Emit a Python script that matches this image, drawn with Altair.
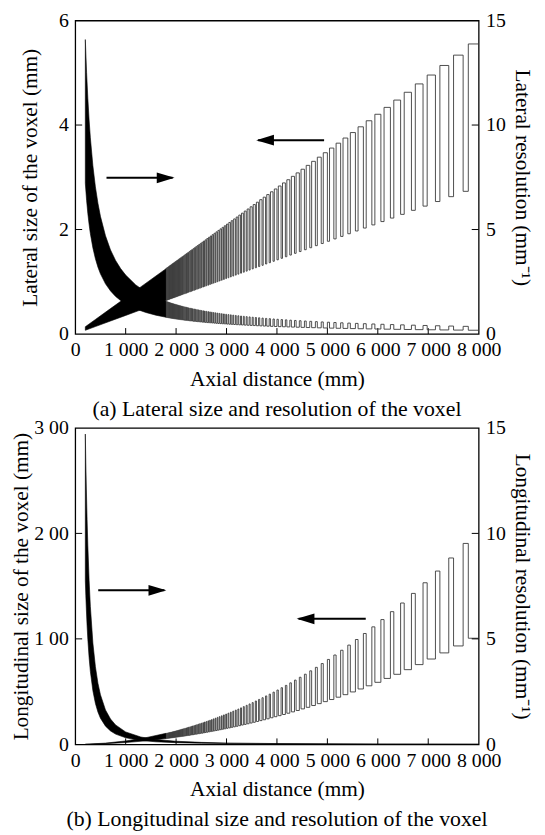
import altair as alt
import pandas as pd

F = "Liberation Serif"

# ---------------- data ----------------
# distance (mm) of the step edges where the individual voxel steps are drawn
step_edges_mm = [1802, 1818, 1835, 1852, 1869, 1887, 1905, 1923, 1942, 1961,
                 1980, 2000, 2020, 2041, 2062, 2083, 2105, 2128, 2151, 2174,
                 2198, 2222, 2247, 2273, 2299, 2326, 2353, 2381, 2410, 2439,
                 2469,
                 2500, 2532, 2564, 2597, 2632, 2667, 2703, 2740, 2778, 2817,
                 2857, 2899, 2941, 2985, 3030, 3077, 3125, 3175, 3226, 3279,
                 3333, 3390, 3448, 3509, 3571, 3636, 3704, 3774, 3846, 3922,
                 4000, 4082, 4167, 4255, 4348, 4444, 4545, 4651, 4762, 4878,
                 5000, 5128, 5263, 5405, 5556, 5714, 5882, 6061, 6250, 6452,
                 6667, 6897, 7143, 7407, 7692, 8000]

# (a) lateral size (mm): narrow low part, then high part of every step
lat_size_low = [0.640, 0.645, 0.651, 0.657, 0.663, 0.670, 0.676, 0.683, 0.689, 0.696,
                0.703, 0.710, 0.717, 0.725, 0.732, 0.739, 0.747, 0.755, 0.764, 0.772,
                0.780, 0.789, 0.798, 0.807, 0.816, 0.826, 0.835, 0.845, 0.856, 0.866,
                0.876,
                0.888, 0.899, 0.910, 0.922, 0.934, 0.947, 0.960, 0.973, 0.986, 1.000,
                1.014, 1.029, 1.044, 1.060, 1.076, 1.092, 1.109, 1.127, 1.145, 1.164,
                1.183, 1.203, 1.224, 1.246, 1.268, 1.291, 1.315, 1.340, 1.365, 1.392,
                1.420, 1.449, 1.479, 1.511, 1.544, 1.578, 1.613, 1.651, 1.691, 1.732,
                1.775, 1.820, 1.868, 1.919, 1.972, 2.028, 2.088, 2.152, 2.219, 2.290,
                2.367, 2.448, 2.536, 2.629, 2.731]
lat_size_high = [1.262, 1.273, 1.285, 1.297, 1.310, 1.322, 1.335, 1.348, 1.361, 1.374,
                 1.388, 1.402, 1.416, 1.431, 1.446, 1.461, 1.477, 1.493, 1.509, 1.525,
                 1.542, 1.559, 1.577, 1.596, 1.614, 1.633, 1.652, 1.673, 1.693, 1.713,
                 1.735,
                 1.757, 1.779, 1.802, 1.827, 1.851, 1.876, 1.902, 1.928, 1.955, 1.983,
                 2.012, 2.041, 2.072, 2.103, 2.135, 2.169, 2.203, 2.239, 2.276, 2.313,
                 2.353, 2.393, 2.435, 2.478, 2.523, 2.571, 2.619, 2.669, 2.722, 2.776,
                 2.833, 2.892, 2.953, 3.018, 3.084, 3.154, 3.228, 3.305, 3.385, 3.470,
                 3.559, 3.653, 3.751, 3.856, 3.966, 4.082, 4.206, 4.338, 4.478, 4.627,
                 4.787, 4.957, 5.140, 5.338, 5.552]
# (a) lateral resolution (mm^-1): high over the narrow part, low over the rest
lat_res_high = [1.563, 1.550, 1.536, 1.522, 1.508, 1.493, 1.479, 1.464, 1.451, 1.437,
                1.422, 1.408, 1.395, 1.380, 1.366, 1.353, 1.339, 1.325, 1.309, 1.295,
                1.282, 1.267, 1.253, 1.239, 1.225, 1.211, 1.198, 1.183, 1.168, 1.155,
                1.142,
                1.126, 1.112, 1.099, 1.085, 1.071, 1.056, 1.042, 1.028, 1.014, 1.000,
                0.986, 0.972, 0.958, 0.943, 0.929, 0.916, 0.902, 0.887, 0.873, 0.859,
                0.845, 0.831, 0.817, 0.803, 0.789, 0.775, 0.760, 0.746, 0.733, 0.718,
                0.704, 0.690, 0.676, 0.662, 0.648, 0.634, 0.620, 0.606, 0.591, 0.577,
                0.563, 0.549, 0.535, 0.521, 0.507, 0.493, 0.479, 0.465, 0.451, 0.437,
                0.422, 0.408, 0.394, 0.380, 0.366]
lat_res_low = [0.792, 0.786, 0.778, 0.771, 0.763, 0.756, 0.749, 0.742, 0.735, 0.728,
               0.720, 0.713, 0.706, 0.699, 0.692, 0.684, 0.677, 0.670, 0.663, 0.656,
               0.649, 0.641, 0.634, 0.627, 0.620, 0.612, 0.605, 0.598, 0.591, 0.584,
               0.576,
               0.569, 0.562, 0.555, 0.547, 0.540, 0.533, 0.526, 0.519, 0.512, 0.504,
               0.497, 0.490, 0.483, 0.476, 0.468, 0.461, 0.454, 0.447, 0.439, 0.432,
               0.425, 0.418, 0.411, 0.404, 0.396, 0.389, 0.382, 0.375, 0.367, 0.360,
               0.353, 0.346, 0.339, 0.331, 0.324, 0.317, 0.310, 0.303, 0.295, 0.288,
               0.281, 0.274, 0.267, 0.259, 0.252, 0.245, 0.238, 0.231, 0.223, 0.216,
               0.209, 0.202, 0.195, 0.187, 0.180]
# (b) longitudinal size (mm): narrow high part, then low part of every step
lon_size_high = [10.46, 10.64, 10.84, 11.04, 11.25, 11.47, 11.69, 11.91, 12.14, 12.38,
                 12.62, 12.88, 13.14, 13.41, 13.69, 13.97, 14.27, 14.58, 14.90, 15.22,
                 15.56, 15.90, 16.26, 16.64, 17.02, 17.42, 17.83, 18.25, 18.70, 19.16,
                 19.63,
                 20.1, 20.6, 21.2, 21.7, 22.3, 22.9, 23.5, 24.2, 24.9, 25.6,
                 26.3, 27.1, 27.9, 28.7, 29.6, 30.5, 31.5, 32.5, 33.5, 34.6,
                 35.8, 37.0, 38.3, 39.6, 41.1, 42.6, 44.2, 45.9, 47.6, 49.5,
                 51.5, 53.7, 55.9, 58.3, 60.9, 63.6, 66.5, 69.7, 73.0, 76.6,
                 80.5, 84.7, 89.2, 94.1, 99.4, 105.1, 111.4, 118.3, 125.8, 134.0,
                 143.1, 153.2, 164.3, 176.7, 190.5]
lon_size_low = [5.52, 5.62, 5.72, 5.83, 5.94, 6.05, 6.17, 6.29, 6.41, 6.54,
                6.66, 6.80, 6.94, 7.08, 7.23, 7.38, 7.53, 7.70, 7.87, 8.03,
                8.21, 8.39, 8.58, 8.78, 8.98, 9.20, 9.41, 9.64, 9.87, 10.11,
                10.36,
                10.6, 10.9, 11.2, 11.5, 11.8, 12.1, 12.4, 12.8, 13.1, 13.5,
                13.9, 14.3, 14.7, 15.2, 15.6, 16.1, 16.6, 17.1, 17.7, 18.3,
                18.9, 19.5, 20.2, 20.9, 21.7, 22.5, 23.3, 24.2, 25.2, 26.2,
                27.2, 28.3, 29.5, 30.8, 32.1, 33.6, 35.1, 36.8, 38.6, 40.5,
                42.5, 44.7, 47.1, 49.7, 52.5, 55.5, 58.8, 62.5, 66.4, 70.8,
                75.6, 80.9, 86.7, 93.3, 100.6]

# dense (solid black) part of each curve: envelope read at a few distances
a_size_band_mm = [200, 400, 700, 1000, 1300, 1600, 1802]
a_size_band_lo = [0.071, 0.142, 0.249, 0.355, 0.462, 0.568, 0.640]
a_size_band_hi = [0.139, 0.278, 0.486, 0.694, 0.902, 1.110, 1.251]

a_res_band_mm = [200, 225, 250, 275, 300, 350, 400, 450, 500, 600, 700, 800, 900,
                 1000, 1200, 1400, 1600, 1802]
a_res_band_hi = [14.09, 12.52, 11.27, 10.24, 9.39, 8.05, 7.04, 6.26, 5.63, 4.70, 4.02,
                 3.52, 3.13, 2.82, 2.35, 2.01, 1.76, 1.563]
a_res_band_lo = [7.21, 6.40, 5.76, 5.24, 4.80, 4.12, 3.60, 3.20, 2.88, 2.40, 2.06,
                 1.80, 1.60, 1.44, 1.20, 1.03, 0.90, 0.800]

b_size_band_mm = [200, 600, 1000, 1400, 1802]
b_size_band_lo = [0.07, 0.61, 1.70, 3.33, 5.52]
b_size_band_hi = [0.13, 1.16, 3.22, 6.31, 10.46]

b_res_band_mm = [200, 210, 220, 235, 250, 275, 300, 350, 400, 450, 500, 600, 700, 800,
                 1000, 1300, 1600, 2000, 2500, 3000, 4000, 5000, 6000, 8000]
b_res_band_hi = [14.71, 13.34, 12.15, 10.65, 9.41, 7.78, 6.54, 4.80, 3.68, 2.90, 2.35,
                 1.63, 1.20, 0.92, 0.588, 0.348, 0.230, 0.147, 0.094, 0.065, 0.037,
                 0.024, 0.016, 0.009]
b_res_band_lo = [7.76, 7.04, 6.42, 5.62, 4.97, 4.11, 3.45, 2.54, 1.94, 1.53, 1.24,
                 0.863, 0.634, 0.485, 0.311, 0.184, 0.121, 0.078, 0.050, 0.035, 0.019,
                 0.012, 0.009, 0.005]

# arrows (start distance, tip distance, height on the left axis)
a_arrow_start = [620, 4935]
a_arrow_tip = [1930, 3627]
a_arrow_y = [2.99, 3.71]
b_arrow_start = [456, 5761]
b_arrow_tip = [1767, 4430]
b_arrow_y = [146, 119]

x_ticks = [0, 1000, 2000, 3000, 4000, 5000, 6000, 7000, 8000]
a_left_ticks = [0, 2, 4, 6]
b_left_ticks = [0, 100, 200, 300]
right_ticks = [0, 5, 10, 15]

# ---------------- helpers ----------------
W = 408
LINE = "#3a3a3a"
xscale = alt.Scale(domain=[0, 8000], nice=False, zero=False)
RIGHT_HEAD = "M 0.25 0 L -2 -0.68 L -2 0.68 Z"
LEFT_HEAD = "M -0.25 0 L 2 -0.68 L 2 0.68 Z"


def band_df(mm, lo, hi):
    return pd.DataFrame({"mm": mm, "lo": lo, "hi": hi})


def path_df(edges, first, second):
    # each step: first level over its leading third, second level over the rest
    xs, ys = [], []
    for i in range(len(first)):
        b0, b1 = edges[i], edges[i + 1]
        m = b0 + (b1 - b0) / 3.0
        xs += [b0, m, m, b1]
        ys += [first[i], first[i], second[i], second[i]]
    return pd.DataFrame({"mm": xs, "v": ys, "k": list(range(len(xs)))})


def make_panel(height, size_band, size_path, res_band, res_path, ldom, lticks,
               ltitle, lexpr, llabel_pad, ltitle_pad, rtitle, arrows, caption):
    lscale = alt.Scale(domain=ldom, nice=False, zero=False)
    rscale = alt.Scale(domain=[0, 15], nice=False, zero=False)
    common = dict(ticks=False, domain=False, grid=False, labelFont=F, labelFontSize=20,
                  labelColor="black", labelFlush=False, labelOverlap=False,
                  titleFont=F, titleFontSize=21.5, titleFontWeight="normal",
                  titleColor="black")
    xaxis = alt.Axis(values=x_ticks, labelPadding=6, title="Axial distance (mm)",
                     titlePadding=9,
                     labelExpr="datum.value == 0 ? '0' : floor(datum.value/1000) + ' 000'",
                     **common)
    laxis = alt.Axis(values=lticks, labelPadding=llabel_pad, title=ltitle,
                     titlePadding=ltitle_pad, labelExpr=lexpr, **common)
    raxis = alt.Axis(orient="right", values=right_ticks, labelPadding=7, title=rtitle,
                     titlePadding=5, **common)

    def X(f):
        return alt.X(f, type="quantitative", scale=xscale, axis=xaxis)

    def YL(f):
        return alt.Y(f, type="quantitative", scale=lscale, axis=laxis)

    def YR(f):
        return alt.Y(f, type="quantitative", scale=rscale, axis=raxis)

    l_band = alt.Chart(size_band).mark_area(color="black", stroke="black",
                                            strokeWidth=0.6).encode(
        x=X("mm"), y=YL("lo"), y2="hi")
    l_line = alt.Chart(size_path).mark_line(color=LINE, strokeWidth=0.9).encode(
        x=X("mm"), y=YL("v"), order="k:Q")
    xt = alt.Chart(pd.DataFrame({"t": x_ticks[1:-1]})).mark_rule(
        color="black", strokeWidth=1).encode(
        x=X("t"), y=alt.value(height), y2=alt.value(height - 6))
    lt = alt.Chart(pd.DataFrame({"t": lticks[1:-1]})).mark_rule(
        color="black", strokeWidth=1).encode(
        y=YL("t"), x=alt.value(0), x2=alt.value(7))
    shafts = alt.Chart(arrows).mark_rule(color="black", strokeWidth=2).encode(
        x=X("start"), x2="tip", y=YL("y"))
    head_r = alt.Chart(arrows).transform_filter("datum.tip > datum.start").mark_point(
        shape=RIGHT_HEAD, filled=True, size=256, color="black", opacity=1,
        strokeWidth=0).encode(x=X("tip"), y=YL("y"))
    head_l = alt.Chart(arrows).transform_filter("datum.tip < datum.start").mark_point(
        shape=LEFT_HEAD, filled=True, size=256, color="black", opacity=1,
        strokeWidth=0).encode(x=X("tip"), y=YL("y"))
    left = alt.layer(l_band, l_line, xt, lt, shafts, head_r, head_l)

    r_layers = [alt.Chart(res_band).mark_area(color="black", stroke="black",
                                              strokeWidth=0.6).encode(
        x=X("mm"), y=YR("lo"), y2="hi")]
    if res_path is not None:
        r_layers.append(alt.Chart(res_path).mark_line(color=LINE, strokeWidth=0.9).encode(
            x=X("mm"), y=YR("v"), order="k:Q"))
    r_layers.append(alt.Chart(pd.DataFrame({"t": right_ticks[1:-1]})).mark_rule(
        color="black", strokeWidth=1).encode(
        y=YR("t"), x=alt.value(W), x2=alt.value(W - 7)))
    right = alt.layer(*r_layers)

    return alt.layer(left, right).resolve_scale(y="independent").properties(
        width=W, height=height,
        title=alt.TitleParams(caption, orient="bottom", anchor="middle", font=F,
                              fontSize=22, fontWeight="normal", color="black",
                              offset=9))


panel_a = make_panel(
    317,
    band_df(a_size_band_mm, a_size_band_lo, a_size_band_hi),
    path_df(step_edges_mm, lat_size_low, lat_size_high),
    band_df(a_res_band_mm, a_res_band_lo, a_res_band_hi),
    path_df(step_edges_mm, lat_res_high, lat_res_low),
    [0, 6], a_left_ticks, "Lateral size of the voxel (mm)",
    "datum.value + ''", 7, 17, "Lateral resolution (mm⁻¹)",
    pd.DataFrame({"start": a_arrow_start, "tip": a_arrow_tip, "y": a_arrow_y}),
    "(a) Lateral size and resolution of the voxel")

panel_b = make_panel(
    320,
    band_df(b_size_band_mm, b_size_band_lo, b_size_band_hi),
    path_df(step_edges_mm, lon_size_high, lon_size_low),
    band_df(b_res_band_mm, b_res_band_lo, b_res_band_hi),
    None,
    [0, 300], b_left_ticks, "Longitudinal size of the voxel (mm)",
    "datum.value == 0 ? '0' : (datum.value/100) + ' 00'", 7, 1,
    "Longitudinal resolution (mm⁻¹)",
    pd.DataFrame({"start": b_arrow_start, "tip": b_arrow_tip, "y": b_arrow_y}),
    "(b) Longitudinal size and resolution of the voxel")

chart = alt.vconcat(panel_a, panel_b, spacing=-4).properties(
    padding={"left": 2, "top": -3, "right": 4, "bottom": 0},
    background="white",
).configure_view(stroke="black", strokeWidth=1.3)

chart.save("out.html", embed_options={"renderer": "svg", "actions": False})
